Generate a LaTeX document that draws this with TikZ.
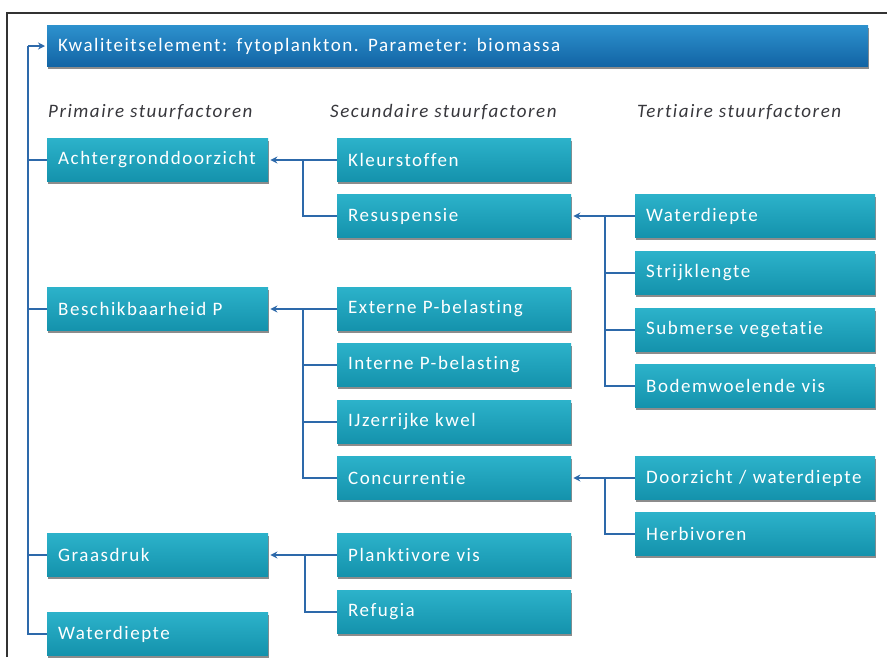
\documentclass[tikz,border=0pt]{standalone}
\usepackage{fontspec}
\setmainfont{Carlito}[LetterSpace=8,Ligatures={NoCommon}]
\usetikzlibrary{shadows,arrows.meta}
\definecolor{tealtop}{RGB}{44,178,202}
\definecolor{tealbot}{RGB}{20,146,172}
\definecolor{bluetop}{RGB}{45,145,205}
\definecolor{bluebot}{RGB}{18,100,165}
\definecolor{lineblue}{RGB}{45,105,170}
\definecolor{hdrgray}{RGB}{55,55,60}
\tikzset{
  fbox/.style={rectangle, draw=none, top color=tealtop, bottom color=tealbot,
    text=white, font=\fontsize{19}{22}\selectfont, anchor=west,
    minimum height=43pt, inner xsep=11pt, inner ysep=0pt, align=left,
    drop shadow={shadow xshift=0.6pt, shadow yshift=-2pt, opacity=0.45, fill=black}},
  prim/.style={fbox, text width=199pt},
  sec/.style={fbox, text width=212pt},
  ter/.style={fbox, text width=218pt},
  titlebox/.style={fbox, top color=bluetop, bottom color=bluebot, text width=799pt, minimum height=41pt},
  conn/.style={draw=lineblue, line width=2.2pt},
  arr/.style={conn, -{Stealth[length=7pt,width=7pt]}, shorten >=2pt},
  hdr/.style={font=\fontsize{19}{22}\selectfont\itshape, text=hdrgray, anchor=west, inner sep=0pt}
}
\begin{document}
\begin{tikzpicture}[x=1pt,y=-1pt]
\useasboundingbox (0,0) rectangle (887,657);
% frame
\draw[line width=1.3pt, draw=black!80] (7,657) -- (7,13) -- (887,13);
% title
\node[titlebox] (T) at (47,46) {Kwaliteitselement: fytoplankton. Parameter: biomassa};
% headers
\node[hdr] (h1) at (48,112) {Primaire stuurfactoren};
\node[hdr] (h2) at (330,112) {Secundaire stuurfactoren};
\node[hdr] (h3) at (637,112) {Tertiaire stuurfactoren};
% primary
\node[prim] (p1) at (47,160) {Achtergronddoorzicht};
\node[prim] (p2) at (47,309) {Beschikbaarheid P};
\node[prim] (p3) at (47,555) {Graasdruk};
\node[prim] (p4) at (47,634) {Waterdiepte};
% secondary
\node[sec] (s1) at (337,160) {Kleurstoffen};
\node[sec] (s2) at (337,216) {Resuspensie};
\node[sec] (s3) at (337,309) {Externe P-belasting};
\node[sec] (s4) at (337,365) {Interne P-belasting};
\node[sec] (s5) at (337,422) {IJzerrijke kwel};
\node[sec] (s6) at (337,478) {Concurrentie};
\node[sec] (s7) at (337,555) {Planktivore vis};
\node[sec] (s8) at (337,612) {Refugia};
% tertiary
\node[ter] (t1) at (635,216) {Waterdiepte};
\node[ter] (t2) at (635,273) {Strijklengte};
\node[ter] (t3) at (635,330) {Submerse vegetatie};
\node[ter] (t4) at (635,386) {Bodemwoelende vis};
\node[ter] (t5) at (635,478) {Doorzicht / waterdiepte};
\node[ter] (t6) at (635,534) {Herbivoren};
% main trunk
\coordinate (m0) at (28,46);
\draw[arr] (m0) -- (T.west);
\draw[conn] (m0) |- (p4.west);
\draw[conn] (m0 |- p1.west) -- (p1.west);
\draw[conn] (m0 |- p2.west) -- (p2.west);
\draw[conn] (m0 |- p3.west) -- (p3.west);
% secondary groups
\coordinate (j1) at (303,160);
\draw[arr] (s1.west) -- (p1.east);
\draw[conn] (j1) |- (s2.west);
\coordinate (j2) at (303,309);
\draw[arr] (s3.west) -- (p2.east);
\draw[conn] (j2) |- (s6.west);
\draw[conn] (j2 |- s4.west) -- (s4.west);
\draw[conn] (j2 |- s5.west) -- (s5.west);
\coordinate (j3) at (305,555);
\draw[arr] (s7.west) -- (p3.east);
\draw[conn] (j3) |- (s8.west);
% tertiary groups
\coordinate (k1) at (605,216);
\draw[arr] (t1.west) -- (s2.east);
\draw[conn] (k1) |- (t4.west);
\draw[conn] (k1 |- t2.west) -- (t2.west);
\draw[conn] (k1 |- t3.west) -- (t3.west);
\coordinate (k2) at (605,478);
\draw[arr] (t5.west) -- (s6.east);
\draw[conn] (k2) |- (t6.west);
\end{tikzpicture}
\end{document}
